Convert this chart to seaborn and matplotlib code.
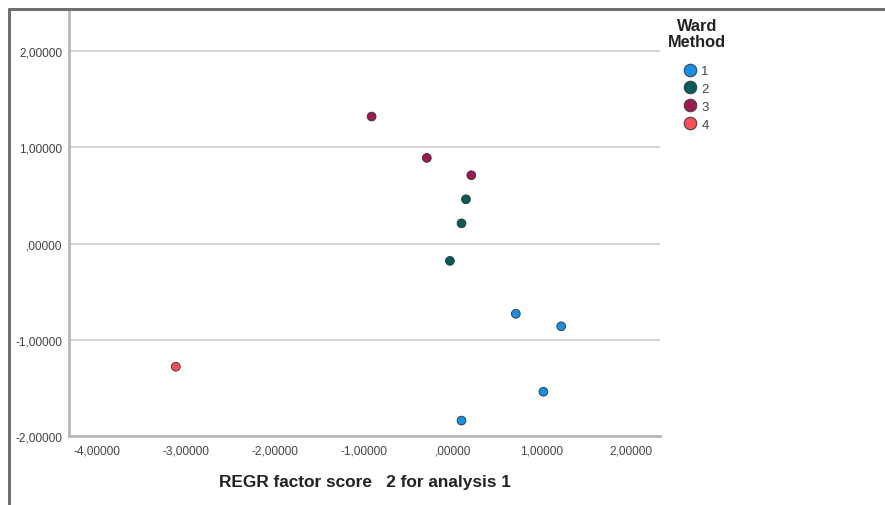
import matplotlib
matplotlib.use("Agg")
import matplotlib.pyplot as plt
import seaborn as sns
import pandas as pd
from matplotlib.lines import Line2D

# Data
cluster = ["1", "1", "1", "1", "2", "2", "2", "3", "3", "3", "4"]
factor2 = [0.71, 1.22, 1.02, 0.10, 0.15, 0.10, -0.03, -0.91, -0.29, 0.21, -3.11]
factor1 = [-0.73, -0.86, -1.54, -1.84, 0.46, 0.21, -0.18, 1.32, 0.89, 0.71, -1.28]
clusters = ["1", "2", "3", "4"]
colors = ["#1192e8", "#005d5d", "#9f1853", "#fa4d56"]
xticks = [-4, -3, -2, -1, 0, 1, 2]
xticklabels = ["-4,00000", "-3,00000", "-2,00000", "-1,00000", ",00000", "1,00000", "2,00000"]
yticks = [-2, -1, 0, 1, 2]
yticklabels = ["-2,00000", "-1,00000", ",00000", "1,00000", "2,00000"]

df = pd.DataFrame({"x": factor2, "y": factor1, "Ward Method": cluster})

sns.set_style("white")
plt.rcParams["font.family"] = ["Liberation Sans", "DejaVu Sans"]

W, H = 885, 506
fig = plt.figure(figsize=(W / 100, H / 100), dpi=100)
ax = fig.add_axes([69 / W, 1 - 437 / H, (660 - 69) / W, (437 - 10) / H])

palette = dict(zip(clusters, colors))
sns.scatterplot(data=df, x="x", y="y", hue="Ward Method", palette=palette,
                hue_order=clusters, s=40, edgecolor="#333333", linewidth=0.6,
                ax=ax, legend=False, zorder=3)

ax.set_xlim(-4.31, 2.33)
ax.set_ylim(-2.0, 2.4375)
ax.set_xticks(xticks)
ax.set_xticklabels(xticklabels)
ax.set_yticks(yticks)
ax.set_yticklabels(yticklabels)
ax.tick_params(axis="both", length=0, labelsize=8.6, colors="#444444", pad=6)
ax.tick_params(axis="y", pad=5)
ax.yaxis.grid(True, color="#d4d4d4", linewidth=1.4)
ax.xaxis.grid(False)
ax.set_axisbelow(True)
for sp in ["top", "right"]:
    ax.spines[sp].set_visible(False)
for sp in ["left", "bottom"]:
    ax.spines[sp].set_color("#b8b8b8")
    ax.spines[sp].set_linewidth(2.0)
ax.set_ylabel("")
ax.set_xlabel("REGR factor score   2 for analysis 1", fontsize=12.4,
              fontweight="bold", color="#222222", labelpad=13)

# Legend title
fig.text(697 / W, 1 - 19 / H, "Ward\nMethod", ha="center", va="top",
         fontsize=11.8, fontweight="bold", color="#222222", linespacing=1.05)

# Legend entries
handles = [Line2D([0], [0], marker="o", linestyle="", markersize=9,
                  markerfacecolor=c, markeredgecolor="#444444", markeredgewidth=0.8)
           for c in colors]
leg = fig.legend(handles, clusters, loc="upper left",
                 bbox_to_anchor=(677 / W, 1 - 66 / H), frameon=False,
                 fontsize=9.5, handletextpad=-0.15, labelspacing=0.42,
                 handlelength=2.0, borderaxespad=0, borderpad=0)
for t in leg.get_texts():
    t.set_color("#444444")

# Outer frame lines (cropped chart border)
fig.add_artist(Line2D([9 / W, 9 / W], [0, 1 - 10 / H], transform=fig.transFigure,
                      color="#707070", linewidth=2.2))
fig.add_artist(Line2D([9 / W, 1], [1 - 10 / H, 1 - 10 / H], transform=fig.transFigure,
                      color="#707070", linewidth=2.2))

fig.savefig("out.png", dpi=100)
